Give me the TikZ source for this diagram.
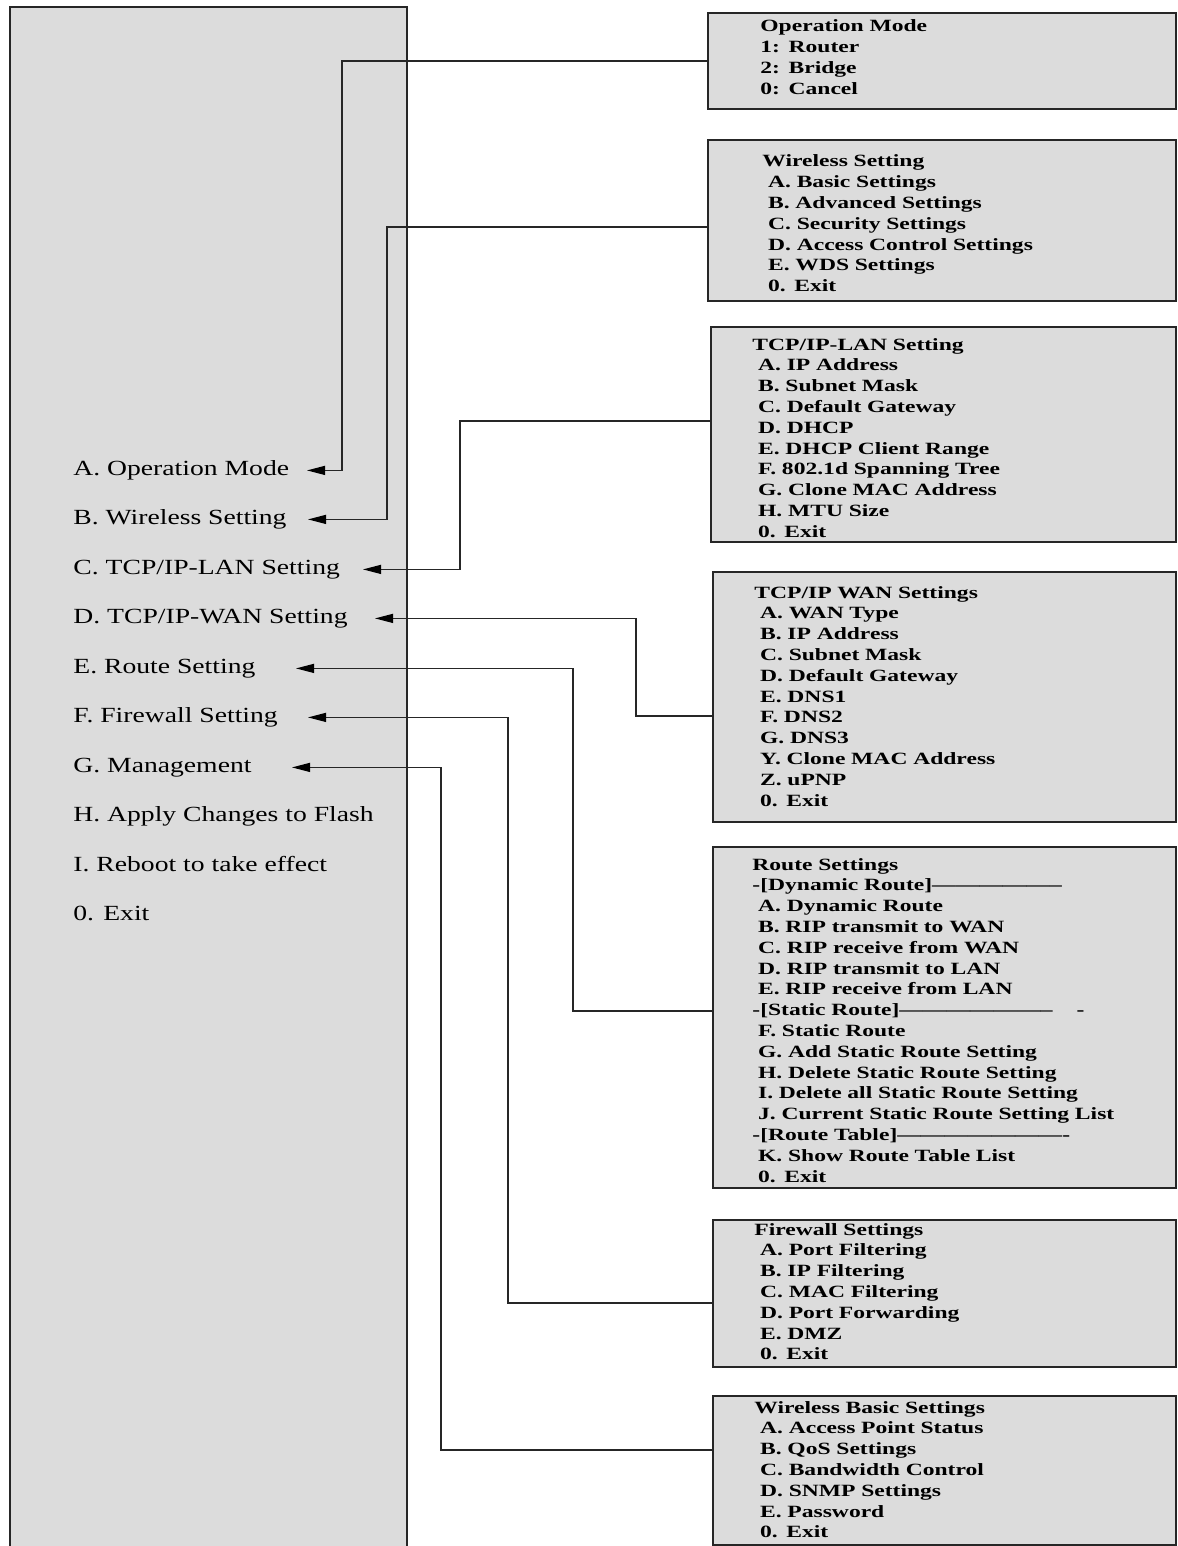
\documentclass[tikz,border=0pt]{standalone}
\usepackage{fontspec}
\setmainfont{Liberation Serif}
\newfontfamily\mainmenufont[FakeStretch=1.28]{Liberation Serif}
\newfontfamily\submenufont[FakeStretch=1.37,Ligatures=TeX]{Liberation Serif}
\usepackage{xcolor}
\usepackage{tikz}
\usetikzlibrary{arrows.meta}
\definecolor{panelgray}{RGB}{220,220,220}

\begin{document}
\begin{tikzpicture}[x=0.5pt,y=-0.5pt,>={Triangle[length=9pt,width=4.5pt,color=black]}]
\tikzset{
subbox/.style={draw=black!85,line width=0.8pt,fill=panelgray,anchor=north west,inner sep=0pt},
subtext/.style={anchor=base west,inner sep=0pt,align=left,text width=225pt,font=\submenufont\bfseries\fontsize{8.6}{10.4}\selectfont},
mainitem/.style={anchor=base west,inner sep=0pt,font=\mainmenufont\fontsize{10.8}{13}\selectfont},
link/.style={draw=black!85,line width=0.6pt,->}
}
\useasboundingbox (0,0) rectangle (1177,1546);
% main menu panel
\fill[panelgray] (10,7) rectangle (407,1546);
\draw[black!85,line width=0.8pt] (10,1546) -- (10,7) -- (407,7) -- (407,1546);
\node[mainitem] (tA) at (73,475) {A. Operation Mode};
\node[mainitem] (tB) at (73,524) {B. Wireless Setting};
\node[mainitem] (tC) at (73,574) {C. TCP/IP-LAN Setting};
\node[mainitem] (tD) at (73,623) {D. TCP/IP-WAN Setting};
\node[mainitem] (tE) at (73,673) {E. Route Setting};
\node[mainitem] (tF) at (73,722) {F. Firewall Setting};
\node[mainitem] (tG) at (73,772) {G. Management};
\node[mainitem] (tH) at (73,821) {H. Apply Changes to Flash};
\node[mainitem] (tI) at (73,871) {I. Reboot to take effect};
\node[mainitem] (t0) at (73,920) {0. Exit};
% sub menus
\node[subbox,minimum width=234pt,minimum height=48pt] (rOp) at (707,12) {};
\node[subtext] (lOp) at (760,32) {Operation Mode\\1: Router\\2: Bridge\\0: Cancel};
\node[subbox,minimum width=234pt,minimum height=80.5pt] (rWl) at (707,139) {};
\node[subtext] (lWl) at (762,167) {Wireless Setting\\~A. Basic Settings\\~B. Advanced Settings\\~C. Security Settings\\~D. Access Control Settings\\~E. WDS Settings\\~0. Exit};
\node[subbox,minimum width=232.5pt,minimum height=107.5pt] (rLan) at (710,326) {};
\node[subtext] (lLan) at (752,350) {TCP/IP-LAN Setting\\~A. IP Address\\~B. Subnet Mask\\~C. Default Gateway\\~D. DHCP\\~E. DHCP Client Range\\~F. 802.1d Spanning Tree\\~G. Clone MAC Address\\~H. MTU Size\\~0. Exit};
\node[subbox,minimum width=231.5pt,minimum height=125pt] (rWan) at (712,571) {};
\node[subtext] (lWan) at (754,598) {TCP/IP WAN Settings\\~A. WAN Type\\~B. IP Address\\~C. Subnet Mask\\~D. Default Gateway\\~E. DNS1\\~F. DNS2\\~G. DNS3\\~Y. Clone MAC Address\\~Z. uPNP\\~0. Exit};
\node[subbox,minimum width=231.5pt,minimum height=170.5pt] (rRt) at (712,846) {};
\node[subtext] (lRt) at (752,870) {Route Settings\\-[Dynamic Route]-----------------\\~A. Dynamic Route\\~B. RIP transmit to WAN\\~C. RIP receive from WAN\\~D. RIP transmit to LAN\\~E. RIP receive from LAN\\-[Static Route]--------------------\hspace{12pt}-\\~F. Static Route\\~G. Add Static Route Setting\\~H. Delete Static Route Setting\\~I. Delete all Static Route Setting\\~J. Current Static Route Setting List\\-[Route Table]----------------------\\~K. Show Route Table List\\~0. Exit};
\node[subbox,minimum width=231.5pt,minimum height=73.5pt] (rFw) at (712,1219) {};
\node[subtext] (lFw) at (754,1235) {Firewall Settings\\~A. Port Filtering\\~B. IP Filtering\\~C. MAC Filtering\\~D. Port Forwarding\\~E. DMZ\\~0. Exit};
\node[subbox,minimum width=231.5pt,minimum height=74.5pt] (rMg) at (712,1395) {};
\node[subtext] (lMg) at (754,1413) {Wireless Basic Settings\\~A. Access Point Status\\~B. QoS Settings\\~C. Bandwidth Control\\~D. SNMP Settings\\~E. Password\\~0. Exit};
% connectors
\draw[link] (rOp.west |- 0,61) -| (342,0 |- tA.mid east) -- (tA.mid east -| 307,0);
\draw[link] (rWl.west |- 0,227) -| (387,0 |- tB.mid east) -- (tB.mid east -| 308,0);
\draw[link] (rLan.west |- 0,421) -| (460,0 |- tC.mid east) -- (tC.mid east -| 363,0);
\draw[link] (rWan.west |- 0,716) -| (636,0 |- tD.mid east) -- (tD.mid east -| 375,0);
\draw[link] (rRt.west |- 0,1011) -| (573,0 |- tE.mid east) -- (tE.mid east -| 296,0);
\draw[link] (rFw.west |- 0,1303) -| (508,0 |- tF.mid east) -- (tF.mid east -| 308,0);
\draw[link] (rMg.west |- 0,1450) -| (441,0 |- tG.mid east) -- (tG.mid east -| 292,0);
\end{tikzpicture}
\end{document}
